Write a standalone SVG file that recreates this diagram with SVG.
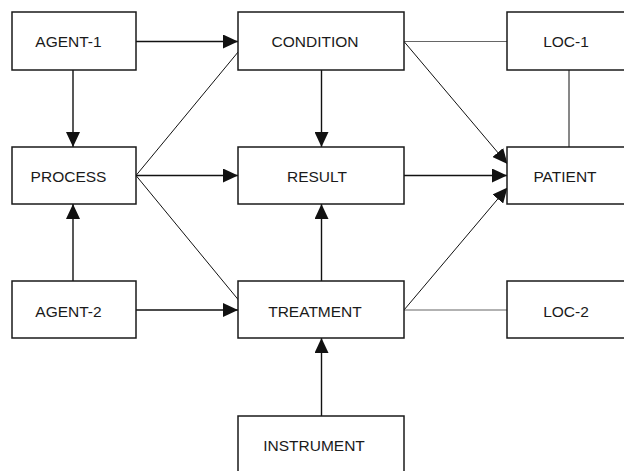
<svg xmlns="http://www.w3.org/2000/svg" width="624" height="471" viewBox="0 0 624 471">
<style>
.box{fill:#fff;stroke:#1a1a1a;stroke-width:1.5}
.lbl{font-family:"Liberation Sans",Arial,sans-serif;font-size:15.5px;fill:#1a1a1a;text-anchor:middle}
.ar{stroke:#111;stroke-width:1.4;fill:none}
.thin{stroke:#111;stroke-width:1;fill:none}
.gray{stroke:#666;stroke-width:1.2;fill:none}
</style>
<defs>
<marker id="ah" markerUnits="userSpaceOnUse" markerWidth="16" markerHeight="14" refX="15" refY="7" orient="auto">
<path d="M0,0 L15,7 L0,14 Z" fill="#111"/>
</marker>
</defs>
<rect width="624" height="471" fill="#fff"/>
<g id="connectors">
<line class="ar" x1="136" y1="41.5" x2="238" y2="41.5" marker-end="url(#ah)"/>
<line class="ar" x1="73" y1="70" x2="73" y2="147" marker-end="url(#ah)"/>
<line class="thin" x1="136" y1="175.5" x2="238.5" y2="51.5"/>
<line class="ar" x1="136" y1="175.5" x2="238" y2="175.5" marker-end="url(#ah)"/>
<line class="thin" x1="136" y1="175.5" x2="238.5" y2="300"/>
<line class="ar" x1="73" y1="281" x2="73" y2="204" marker-end="url(#ah)"/>
<line class="ar" x1="136" y1="310" x2="238" y2="310" marker-end="url(#ah)"/>
<line class="ar" x1="321.5" y1="70" x2="321.5" y2="147" marker-end="url(#ah)"/>
<line class="ar" x1="321.5" y1="281" x2="321.5" y2="204" marker-end="url(#ah)"/>
<line class="ar" x1="321.5" y1="416" x2="321.5" y2="338" marker-end="url(#ah)"/>
<line class="gray" x1="404" y1="41.5" x2="507" y2="41.5"/>
<line class="thin" x1="569" y1="70" x2="569" y2="147"/>
<line class="thin" x1="404" y1="41.5" x2="507.5" y2="164" marker-end="url(#ah)"/>
<line class="ar" x1="404" y1="175.5" x2="507" y2="175.5" marker-end="url(#ah)"/>
<line class="thin" x1="404" y1="310" x2="507.5" y2="187.5" marker-end="url(#ah)"/>
<line class="gray" x1="404" y1="310" x2="507" y2="310"/>
</g>
<g id="agent1"><rect class="box" x="12" y="12" width="124" height="58"/><text class="lbl" x="68.5" y="47.3">AGENT-1</text></g>
<g id="condition"><rect class="box" x="238" y="12" width="166" height="58"/><text class="lbl" x="315" y="47.3">CONDITION</text></g>
<g id="loc1"><rect class="box" x="507" y="12" width="124" height="58"/><text class="lbl" x="566" y="47.3">LOC-1</text></g>
<g id="process"><rect class="box" x="12" y="147" width="124" height="57"/><text class="lbl" x="68.5" y="181.5">PROCESS</text></g>
<g id="result"><rect class="box" x="238" y="147" width="166" height="57"/><text class="lbl" x="317" y="181.5">RESULT</text></g>
<g id="patient"><rect class="box" x="507" y="147" width="124" height="57"/><text class="lbl" x="565" y="181.5">PATIENT</text></g>
<g id="agent2"><rect class="box" x="12" y="281" width="124" height="57"/><text class="lbl" x="68.5" y="316.5">AGENT-2</text></g>
<g id="treatment"><rect class="box" x="238" y="281" width="166" height="57"/><text class="lbl" x="315" y="316.5">TREATMENT</text></g>
<g id="loc2"><rect class="box" x="507" y="281" width="124" height="57"/><text class="lbl" x="566" y="316.5">LOC-2</text></g>
<g id="instrument"><rect class="box" x="238" y="416" width="166" height="70"/><text class="lbl" x="314" y="451">INSTRUMENT</text></g>
</svg>
